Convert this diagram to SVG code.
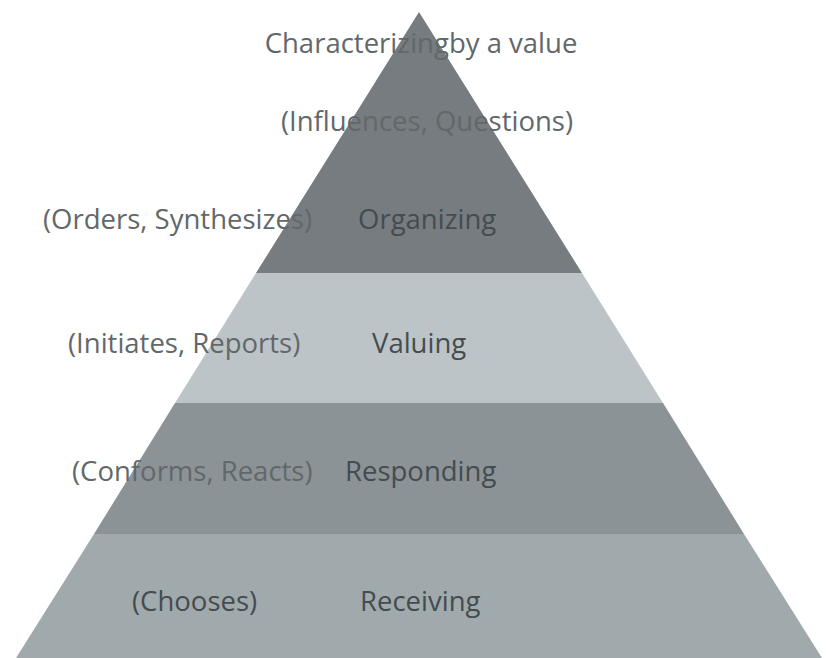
<svg xmlns="http://www.w3.org/2000/svg" width="826" height="658" viewBox="0 0 826 658">
<style>
.lbl{font-family:"Open Sans","Noto Sans","Liberation Sans",sans-serif;font-size:27.5px;fill:#62686a}
.in{fill:#454c4f}
</style>
<rect width="826" height="658" fill="#ffffff"/>
<g id="pyramid">
<polygon id="top" points="419,12 582,273 256,273" fill="#767c7f"/>
<polygon id="valuing-band" points="256,273 582,273 663,403 175,403" fill="#bdc4c7"/>
<polygon id="responding-band" points="175,403 663,403 744,534 94,534" fill="#8b9397"/>
<polygon id="receiving-band" points="94,534 744,534 822,658 16,658" fill="#a0a9ac"/>
</g>
<g id="labels">
<text class="lbl" x="421" y="53" text-anchor="middle">Characterizingby a value</text>
<text class="lbl" x="427" y="131" text-anchor="middle">(Influences, Questions)</text>
<text class="lbl" x="43" y="229">(Orders, Synthesizes)</text>
<text class="lbl in" x="358" y="229">Organizing</text>
<text class="lbl" x="68" y="353">(Initiates, Reports)</text>
<text class="lbl in" x="372" y="353">Valuing</text>
<text class="lbl" x="72" y="481">(Conforms, Reacts)</text>
<text class="lbl in" x="345" y="481">Responding</text>
<text class="lbl in" x="132" y="611">(Chooses)</text>
<text class="lbl in" x="360" y="611">Receiving</text>
</g>
</svg>
